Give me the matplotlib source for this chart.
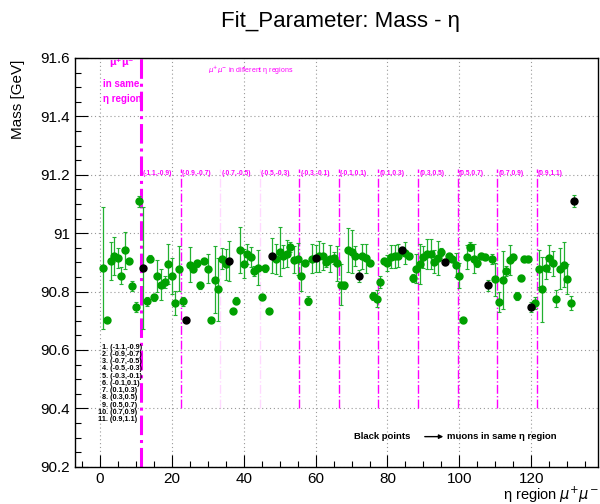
import matplotlib
matplotlib.use("Agg")
import matplotlib.pyplot as plt
from matplotlib.ticker import MultipleLocator
import numpy as np

plt.rcParams["font.family"] = ["Liberation Sans", "DejaVu Sans"]

# Fitted Z mass per eta-region pair (index 1..132), black = same-region pairs
mass = [
    90.881, 90.701, 90.905, 90.922, 90.914, 90.854, 90.941, 90.903, 90.819, 90.746,
    91.109, 90.881, 90.766, 90.913, 90.781, 90.853, 90.824, 90.833, 90.894, 90.853,
    90.761, 90.878, 90.767, 90.701, 90.891, 90.878, 90.897, 90.821, 90.905, 90.878,
    90.701, 90.840, 90.807, 90.913, 90.893, 90.905, 90.734, 90.769, 90.942, 90.895,
    90.929, 90.919, 90.871, 90.882, 90.781, 90.879, 90.734, 90.923, 90.912, 90.937,
    90.920, 90.930, 90.954, 90.909, 90.912, 90.854, 90.897, 90.769, 90.913, 90.914,
    90.920, 90.920, 90.902, 90.913, 90.915, 90.896, 90.824, 90.821, 90.941, 90.937,
    90.921, 90.854, 90.921, 90.914, 90.896, 90.784, 90.775, 90.833, 90.904, 90.898,
    90.919, 90.921, 90.923, 90.941, 90.933, 90.923, 90.846, 90.878, 90.894, 90.918,
    90.929, 90.929, 90.902, 90.915, 90.935, 90.902, 90.920, 90.912, 90.891, 90.854,
    90.701, 90.918, 90.954, 90.913, 90.896, 90.923, 90.918, 90.821, 90.910, 90.842,
    90.763, 90.840, 90.871, 90.907, 90.917, 90.784, 90.846, 90.910, 90.910, 90.747,
    90.761, 90.878, 90.807, 90.881, 90.914, 90.896, 90.775, 90.878, 90.891, 90.842,
    90.761, 91.109,
]
mass_err = [
    0.209, 0.005, 0.066, 0.065, 0.034, 0.029, 0.063, 0.008, 0.016, 0.017,
    0.018, 0.209, 0.015, 0.012, 0.012, 0.054, 0.052, 0.020, 0.069, 0.063,
    0.040, 0.077, 0.015, 0.005, 0.060, 0.011, 0.012, 0.011, 0.011, 0.049,
    0.005, 0.115, 0.107, 0.037, 0.054, 0.069, 0.006, 0.011, 0.080, 0.049,
    0.034, 0.034, 0.017, 0.060, 0.011, 0.011, 0.006, 0.060, 0.051, 0.083,
    0.038, 0.046, 0.017, 0.046, 0.054, 0.051, 0.011, 0.014, 0.051, 0.046,
    0.054, 0.046, 0.017, 0.046, 0.020, 0.060, 0.070, 0.012, 0.075, 0.075,
    0.034, 0.020, 0.043, 0.049, 0.010, 0.014, 0.029, 0.020, 0.010, 0.026,
    0.040, 0.040, 0.040, 0.011, 0.038, 0.010, 0.014, 0.049, 0.069, 0.037,
    0.051, 0.051, 0.040, 0.057, 0.014, 0.011, 0.010, 0.010, 0.040, 0.043,
    0.008, 0.040, 0.014, 0.051, 0.011, 0.010, 0.010, 0.020, 0.017, 0.057,
    0.034, 0.100, 0.017, 0.051, 0.010, 0.014, 0.011, 0.010, 0.010, 0.017,
    0.020, 0.063, 0.111, 0.037, 0.046, 0.043, 0.029, 0.071, 0.077, 0.051,
    0.023, 0.020,
]
idx = np.arange(1, len(mass) + 1)
same_region = idx % 12 == 0

regions = ["(-1.1,-0.9)", "(-0.9,-0.7)", "(-0.7,-0.5)", "(-0.5,-0.3)", "(-0.3,-0.1)",
           "(-0.1,0.1)", "(0.1,0.3)", "(0.3,0.5)", "(0.5,0.7)", "(0.7,0.9)", "(0.9,1.1)"]
boundaries = [11.5, 22.5, 33.5, 44.5, 55.5, 66.5, 77.5, 88.5, 99.5, 110.5, 121.5]
faint = [33.5, 44.5]

mass = np.array(mass)
mass_err = np.array(mass_err)

fig = plt.figure(figsize=(6, 5.04), dpi=100)
ax = fig.add_axes([0.125, 0.074, 0.872, 0.811])

green = "#00a000"
magenta = "#ff00ff"

ax.errorbar(idx, mass, yerr=mass_err, fmt="none", ecolor="#22b030", elinewidth=0.9,
            capsize=1.5, capthick=0.8, zorder=3)
ax.plot(idx[~same_region], mass[~same_region], "o", color=green, ms=5, zorder=4)
ax.plot(idx[same_region], mass[same_region], "o", color="black", ms=5, zorder=5)

# region separators
for b in boundaries:
    if b == 11.5:
        ax.axvline(b, color=magenta, ls="-.", lw=2.2, zorder=2)
    else:
        alpha = 0.15 if b in faint else 1.0
        ax.plot([b, b], [90.4, 91.22], color=magenta, ls="-.", lw=1.0,
                alpha=alpha, zorder=2)

for b, r in zip(boundaries, regions):
    ax.text(b + 0.3, 91.205, r, color=magenta, fontsize=4.8, fontweight="bold",
            ha="left", va="center")

ax.text(6, 91.583, r"$\mathbf{\mu^{+}\mu^{-}}$", color=magenta, fontsize=6.5,
        ha="center", va="center")
ax.text(1.0, 91.51, "in same", color=magenta, fontsize=7, fontweight="bold",
        ha="left", va="center")
ax.text(1.0, 91.459, "η region", color=magenta, fontsize=7, fontweight="bold",
        ha="left", va="center")
ax.text(42, 91.556, r"$\mu^{+}\mu^{-}$ in different η regions", color=magenta,
        fontsize=5, ha="center", va="center")

for i, r in enumerate(regions):
    xpos = 0.6 if i < 9 else -0.5
    ax.text(xpos, 91.6 - (288 + 7.2 * i) / 290.7, f"{i + 1}. {r}", fontsize=5.2,
            fontweight="bold", ha="left", va="center")

ax.text(70.6, 90.303, "Black points", fontsize=6.8, fontweight="bold",
        ha="left", va="center")
ax.annotate("", xy=(96.3, 90.303), xytext=(89.6, 90.303),
            arrowprops=dict(arrowstyle="-|>", color="black", lw=1, mutation_scale=6))
ax.text(96.6, 90.303, "muons in same η region", fontsize=6.8, fontweight="bold",
        ha="left", va="center")

ax.set_xlim(-6.9, 138.6)
ax.set_ylim(90.2, 91.6)
ax.xaxis.set_major_locator(MultipleLocator(20))
ax.xaxis.set_minor_locator(MultipleLocator(5))
ax.yaxis.set_major_locator(MultipleLocator(0.2))
ax.yaxis.set_minor_locator(MultipleLocator(0.05))
ax.yaxis.set_major_formatter(plt.FuncFormatter(lambda v, p: f"{v:g}"))
ax.tick_params(which="both", direction="in", labelsize=11, top=False, right=False)
ax.tick_params(which="major", length=9, width=0.8)
ax.tick_params(which="minor", length=4.5, width=0.8)
ax.grid(True, which="major", color="0.6", ls=(0, (1, 2.5)), lw=0.8)
for s in ax.spines.values():
    s.set_linewidth(1.0)

fig.text(0.567, 1 - 22 / 504, "Fit_Parameter: Mass - η", fontsize=16,
         ha="center", va="center")
fig.text(18 / 600, 1 - 60 / 504, "Mass [GeV]", rotation=90, fontsize=11,
         ha="center", va="top")
fig.text(0.997, 1 - 495 / 504, r"η region $\mu^{+}\mu^{-}$", fontsize=10.5,
         ha="right", va="center")

fig.savefig("out.png", dpi=100)
